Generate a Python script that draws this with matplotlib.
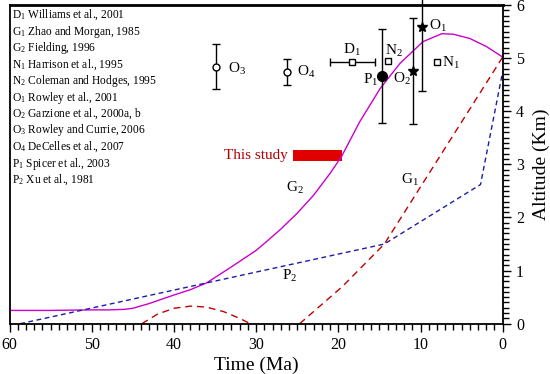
import matplotlib
matplotlib.use("Agg")
import matplotlib.pyplot as plt
from matplotlib.ticker import MultipleLocator

plt.rcParams['font.family'] = ['Liberation Serif', 'DejaVu Serif']
plt.rcParams['mathtext.fontset'] = 'custom'
plt.rcParams['mathtext.rm'] = 'Liberation Serif'
plt.rcParams['mathtext.it'] = 'Liberation Serif:italic'

# G2 (Fielding, 1996) curve
g2_t = [60, 55, 50, 48, 46, 45, 43, 40, 38, 36, 33, 30, 29, 27, 25, 23, 21, 19.6, 17.4, 14.9, 12.5, 9.7, 7.4, 6, 4, 2, 0]
g2_h = [0.25, 0.25, 0.26, 0.26, 0.27, 0.29, 0.38, 0.54, 0.64, 0.77, 1.07, 1.38, 1.51, 1.78, 2.08, 2.42, 2.83, 3.15, 3.8, 4.43, 4.9, 5.31, 5.46, 5.45, 5.37, 5.22, 5.02]

# P2 (Xu et al., 1981)
p2_t = [58.7, 14.4, 2.7, 0]
p2_h = [0.0, 1.5, 2.62, 4.75]

# G1 (Zhao and Morgan, 1985) two pieces
g1a_t = [43.9, 42, 40, 38, 37.6, 36, 34, 32, 30.7]
g1a_h = [0.0, 0.18, 0.29, 0.33, 0.33, 0.31, 0.23, 0.1, 0.0]
g1b_t = [24.7, 19.5, 14.4, 0]
g1b_h = [0.0, 0.7, 1.5, 5.02]

# points
o3 = (34.9, 4.84, 0.42)
o4 = (26.2, 4.74, 0.25)
d1 = (18.3, 4.93, 2.75)
p1 = (14.7, 4.66, 0.89)
n2 = (13.9, 4.95)
o2 = (10.95, 4.76, 1.0)
o1 = (9.8, 5.59, 1.2)
n1 = (7.95, 4.93)

study_t = (25.5, 19.5)
study_h = (3.07, 3.27)

refs = [r'D$_{\mathrm{1}}$ Williams et al., 2001',
        r'G$_{\mathrm{1}}$ Zhao and Morgan, 1985',
        r'G$_{\mathrm{2}}$ Fielding, 1996',
        r'N$_{\mathrm{1}}$ Harrison et al., 1995',
        r'N$_{\mathrm{2}}$ Coleman and Hodges, 1995',
        r'O$_{\mathrm{1}}$ Rowley et al., 2001',
        r'O$_{\mathrm{2}}$ Garzione et al., 2000a, b',
        r'O$_{\mathrm{3}}$ Rowley and Currie, 2006',
        r'O$_{\mathrm{4}}$ DeCelles et al., 2007',
        r'P$_{\mathrm{1}}$ Spicer et al., 2003',
        r'P$_{\mathrm{2}}$ Xu et al., 1981']

fig = plt.figure(figsize=(5.5, 3.74), dpi=100)
ax = fig.add_axes([0.0173, 0.1345, 0.914 - 0.0173, 0.9866 - 0.1345])
ax.set_xlim(60, 0)
ax.set_ylim(0, 6)

magenta = '#CC00CC'
blue = '#1C1CA8'
dred = '#C00000'

ax.plot(g2_t, g2_h, color=magenta, lw=1.0)
ax.plot(p2_t, p2_h, color=blue, lw=1.0, dashes=(3.5, 2.5))
ax.plot(g1a_t, g1a_h, color=dred, lw=1.0, dashes=(5, 3.5))
ax.plot(g1b_t, g1b_h, color=dred, lw=1.0, dashes=(5, 3.5))

ek = dict(color='black', lw=1.0, capsize=3, capthick=1.0)
ax.errorbar(o3[0], o3[1], yerr=o3[2], fmt='o', mfc='white', mec='black', ms=5, **ek)
ax.errorbar(o4[0], o4[1], yerr=o4[2], fmt='o', mfc='white', mec='black', ms=5, **ek)
ax.errorbar(d1[0], d1[1], xerr=d1[2], fmt='s', mfc='white', mec='black', ms=4, **ek)
ax.errorbar(p1[0], p1[1], yerr=p1[2], fmt='o', mfc='black', mec='black', ms=7, **ek)
ax.plot(n2[0], n2[1], 's', mfc='white', mec='black', ms=4)
ax.errorbar(o2[0], o2[1], yerr=o2[2], fmt='*', mfc='black', mec='black', ms=7, **ek)
eb = ax.errorbar(o1[0], o1[1], yerr=o1[2], fmt='*', mfc='black', mec='black', ms=7, **ek)
for art in eb.lines[2]:
    art.set_clip_on(False)
for art in eb.lines[1]:
    art.set_clip_on(False)
ax.plot(n1[0], n1[1], 's', mfc='white', mec='black', ms=4)

ax.fill_between(study_t, study_h[0], study_h[1], color='#E00000', lw=0)
ax.text(30.0, 3.17, 'This study', color='#B00000', fontsize=11, ha='center', va='center')

lab = dict(fontsize=11, color='black')
ax.text(33.4, 4.80, r'O$_{\mathrm{3}}$', ha='left', va='center', **lab)
ax.text(25.0, 4.74, r'O$_{\mathrm{4}}$', ha='left', va='center', **lab)
ax.text(18.4, 5.16, r'D$_{\mathrm{1}}$', ha='center', va='center', **lab)
ax.text(16.1, 4.58, r'P$_{\mathrm{1}}$', ha='center', va='center', **lab)
ax.text(13.2, 5.13, r'N$_{\mathrm{2}}$', ha='center', va='center', **lab)
ax.text(12.3, 4.60, r'O$_{\mathrm{2}}$', ha='center', va='center', **lab)
ax.text(9.0, 5.60, r'O$_{\mathrm{1}}$', ha='left', va='center', **lab)
ax.text(7.4, 4.90, r'N$_{\mathrm{1}}$', ha='left', va='center', **lab)
ax.text(25.3, 2.55, r'G$_{\mathrm{2}}$', ha='center', va='center', **lab)
ax.text(11.3, 2.70, r'G$_{\mathrm{1}}$', ha='center', va='center', **lab)
ax.text(25.9, 0.90, r'P$_{\mathrm{2}}$', ha='center', va='center', **lab)

for i, r in enumerate(refs):
    fig.text(12.5 / 550, 1 - (15 + 16.5 * i) / 374, r, fontsize=8.3, ha='left', va='center')

ax.xaxis.set_major_locator(MultipleLocator(10))
ax.xaxis.set_minor_locator(MultipleLocator(1))
ax.yaxis.set_major_locator(MultipleLocator(1))
ax.yaxis.set_minor_locator(MultipleLocator(0.1))
ax.yaxis.tick_right()
ax.yaxis.set_label_position('right')
ax.tick_params(which='both', direction='out', top=False, left=False, right=True, bottom=True,
               labelsize=11.5, width=1.0)
ax.tick_params(which='major', length=6)
ax.tick_params(which='minor', length=4)
ax.set_xlabel('Time (Ma)', fontsize=14, labelpad=3)
ax.set_ylabel('Altitude (Km)', fontsize=14, labelpad=6, rotation=90)
for s in ax.spines.values():
    s.set_linewidth(1.3)
ax.spines['top'].set_linewidth(2.0)

fig.savefig('out.png', dpi=100)
